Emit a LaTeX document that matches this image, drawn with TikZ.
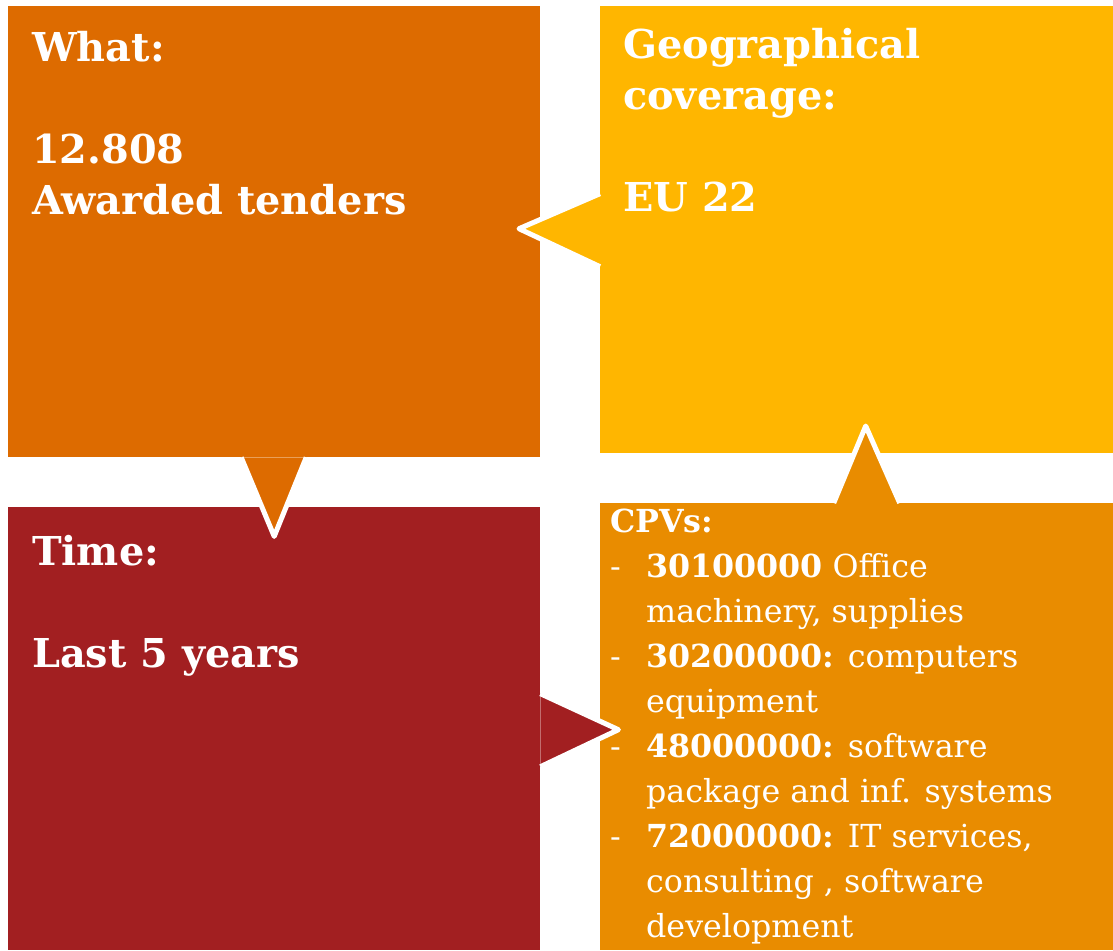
\documentclass[tikz,border=0pt]{standalone}
\usepackage{fontspec}
\setmainfont{DejaVu Serif}
\usetikzlibrary{calc}
\definecolor{cwhat}{RGB}{221,107,0}
\definecolor{cgeo}{RGB}{255,182,0}
\definecolor{ctime}{RGB}{162,31,33}
\definecolor{ccpv}{RGB}{233,140,0}

\begin{document}
\begin{tikzpicture}[x=1pt,y=-1pt]
        \tikzstyle{box} = [rectangle,inner sep=0pt,anchor=north west]
        \tikzstyle{tip} = [draw=white,line width=5pt,line join=round]
        \tikzstyle{big} = [anchor=north west,inner sep=0pt,align=left,text=white,font=\fontsize{39.8}{51}\selectfont\bfseries]
        \tikzstyle{small} = [anchor=north west,inner sep=0pt,align=left,text=white,font=\fontsize{31.7}{45}\selectfont]
        \useasboundingbox (0,0) rectangle (1113,950);
        \foreach \n/\c/\x/\y/\w/\h in {what/cwhat/8/6/532/451, geo/cgeo/600/6/513/447, time/ctime/8/507/532/443, cpv/ccpv/600/503/513/447}{
          \node(\n)[box,fill=\c,minimum width=\w pt,minimum height=\h pt] at (\x,\y) {};
        }
        \path[fill=cwhat,tip] ($(what.south)+(-33,0)$) -- ($(what.south)+(0,79)$) -- ($(what.south)+(32,0)$);
        \path[fill=cgeo,tip] ($(geo.west)+(0,-36)$) -- ($(geo.west)+(-81,-1)$) -- ($(geo.west)+(0,37)$);
        \path[fill=ctime,tip] ($(time.east)+(0,-35)$) -- ($(time.east)+(78,1)$) -- ($(time.east)+(0,38)$);
        \path[fill=ccpv,tip] ($(cpv.north)+(-23,0)$) -- ($(cpv.north)+(9,-77)$) -- ($(cpv.north)+(43,0)$);
        \node(whattxt)[big] at (32,31) {What:\\[51pt]12.808\\Awarded tenders};
        \node(geotxt)[big] at (623,28) {Geographical\\coverage:\\[51pt]EU 22};
        \node(timetxt)[big] at (32,535) {Time:\\[51pt]Last 5 years};
        \node(cpvtxt)[small] at (610,509) {\textbf{CPVs:}\\
          \makebox[36pt][l]{-}\textbf{30100000} Office\\
          \hspace*{36pt}machinery, supplies\\
          \makebox[36pt][l]{-}\textbf{30200000:} computers\\
          \hspace*{36pt}equipment\\
          \makebox[36pt][l]{-}\textbf{48000000:} software\\
          \hspace*{36pt}package and inf. systems\\
          \makebox[36pt][l]{-}\textbf{72000000:} IT services,\\
          \hspace*{36pt}consulting , software\\
          \hspace*{36pt}development};
      \end{tikzpicture}
\end{document}
